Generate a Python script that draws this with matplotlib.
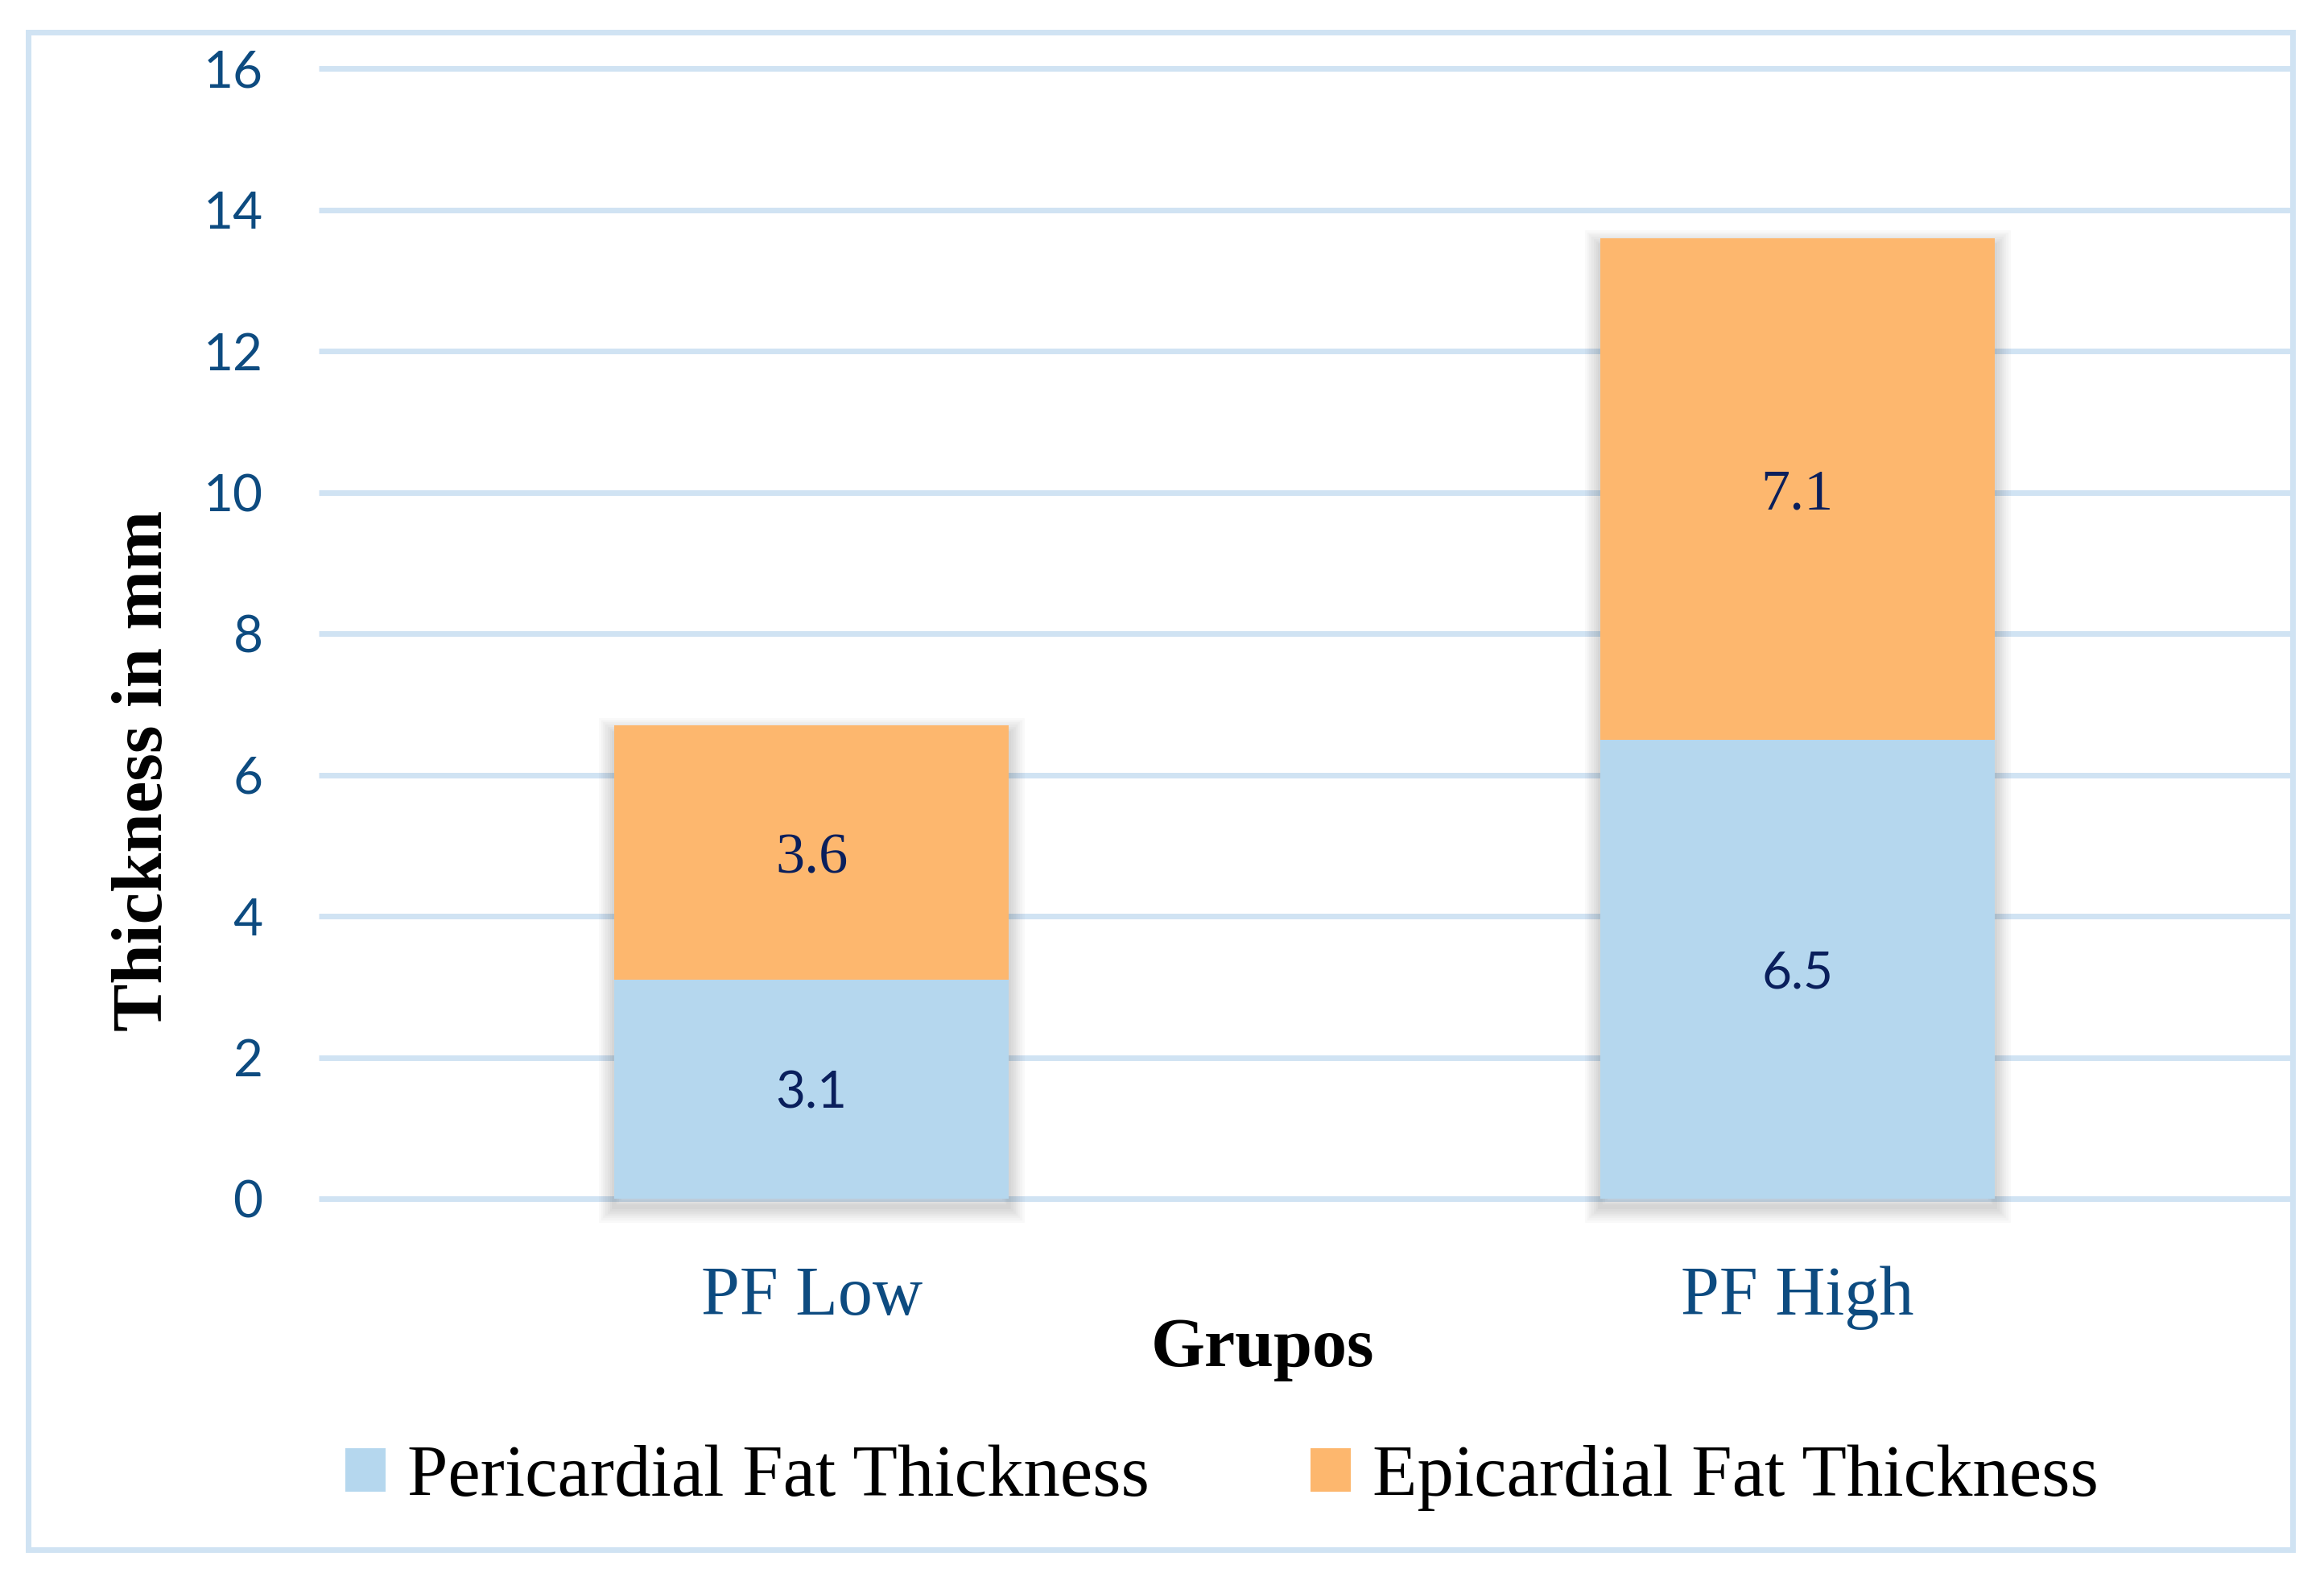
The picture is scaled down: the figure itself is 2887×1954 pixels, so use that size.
import matplotlib
matplotlib.use("Agg")
import matplotlib.pyplot as plt
from matplotlib.patches import Rectangle, Patch
from matplotlib.transforms import ScaledTranslation
import numpy as np

# ---- data ----
categories = ["PF Low", "PF High"]
pericardial = [3.1, 6.5]
epicardial = [3.6, 7.1]
series_names = ["Pericardial Fat Thickness", "Epicardial Fat Thickness"]
y_ticks = [0, 2, 4, 6, 8, 10, 12, 14, 16]
x_label = "Grupos"
y_label = "Thickness in mm"

# ---- style ----
C_BLUE = "#B5D7EE"
C_ORANGE = "#FDB76E"
C_GRID = "#D0E3F3"
C_TICK = "#0D4B80"
C_VAL = "#0A1F5C"
SERIF = ["Liberation Serif", "DejaVu Serif"]
SANS = ["Lato", "DejaVu Sans"]

W, H, DPI = 2887, 1954, 200
fig = plt.figure(figsize=(W / DPI, H / DPI), dpi=DPI)
fig.patch.set_facecolor("white")

# outer frame
fig.patches.append(Rectangle((34.5 / W, 1 - 1925 / H), (2848 - 34.5) / W, (1925 - 39.5) / H,
                             transform=fig.transFigure, fill=False,
                             edgecolor=C_GRID, linewidth=2.5, zorder=0))

ax_left, ax_right = 396 / W, 2845 / W
ax_bottom, ax_top = 1 - 1489 / H, 1 - 85 / H
ax = fig.add_axes([ax_left, ax_bottom, ax_right - ax_left, ax_top - ax_bottom])
ax.set_facecolor("none")
for s in ax.spines.values():
    s.set_visible(False)

x = np.arange(len(categories))
width = 0.40
ax.set_xlim(-0.5, len(categories) - 0.5)
ax.set_ylim(0, 16)

# gridlines
ax.hlines(y_ticks, -0.5, len(categories) - 0.5, colors=C_GRID, linewidth=2.5,
          zorder=0.5, clip_on=False)

totals = np.array(pericardial) + np.array(epicardial)

# soft shadow behind stacked bars
offset = ScaledTranslation(0, -3.5 / 72, fig.dpi_scale_trans)
for lw in [2, 4, 6, 8, 10, 12, 14]:
    sh = ax.bar(x, totals, width, facecolor="none", edgecolor=(0, 0, 0, 0.025),
                linewidth=lw, zorder=1)
    for r in sh:
        r.set_transform(ax.transData + offset)
        r.set_clip_on(False)

b1 = ax.bar(x, pericardial, width, color=C_BLUE, zorder=2, linewidth=0)
b2 = ax.bar(x, epicardial, width, bottom=pericardial, color=C_ORANGE, zorder=2, linewidth=0)

# value labels
for i in range(len(categories)):
    ax.text(x[i], pericardial[i] / 2, f"{pericardial[i]:.1f}", ha="center", va="center_baseline",
            fontsize=23, color=C_VAL, family=SANS, zorder=3)
    ax.text(x[i], pericardial[i] + epicardial[i] / 2, f"{epicardial[i]:.1f}", ha="center",
            va="center_baseline", fontsize=26, color=C_VAL, family=SERIF, zorder=3)

ax.set_yticks(y_ticks)
ax.set_yticklabels([str(t) for t in y_ticks], family=SANS, fontsize=23, color=C_TICK)
ax.set_xticks(x)
ax.set_xticklabels(categories, family=SERIF, fontsize=31, color=C_TICK)
ax.tick_params(axis="y", length=0, pad=25)
ax.tick_params(axis="x", length=0, pad=30)

fig.text(1569 / W, 1 - 1697 / H, x_label, ha="center", va="baseline",
         fontsize=31, fontweight="bold", family=SERIF, color="black")
fig.text(180 / W, 1 - 957 / H, y_label, ha="center", va="center", rotation=90,
         fontsize=32, fontweight="bold", family=SERIF, color="black")

handles = [Patch(facecolor=C_BLUE, edgecolor="none"), Patch(facecolor=C_ORANGE, edgecolor="none")]
leg = fig.legend(handles, series_names, loc="center", bbox_to_anchor=(1518 / W, 1 - 1836 / H),
                 ncol=2, frameon=False, handlelength=0.55, handleheight=0.55,
                 handletextpad=0.3, columnspacing=2.2,
                 prop={"family": SERIF, "size": 32.7})
for t in leg.get_texts():
    t.set_color("black")

fig.savefig("out.png", dpi=DPI, facecolor="white")
